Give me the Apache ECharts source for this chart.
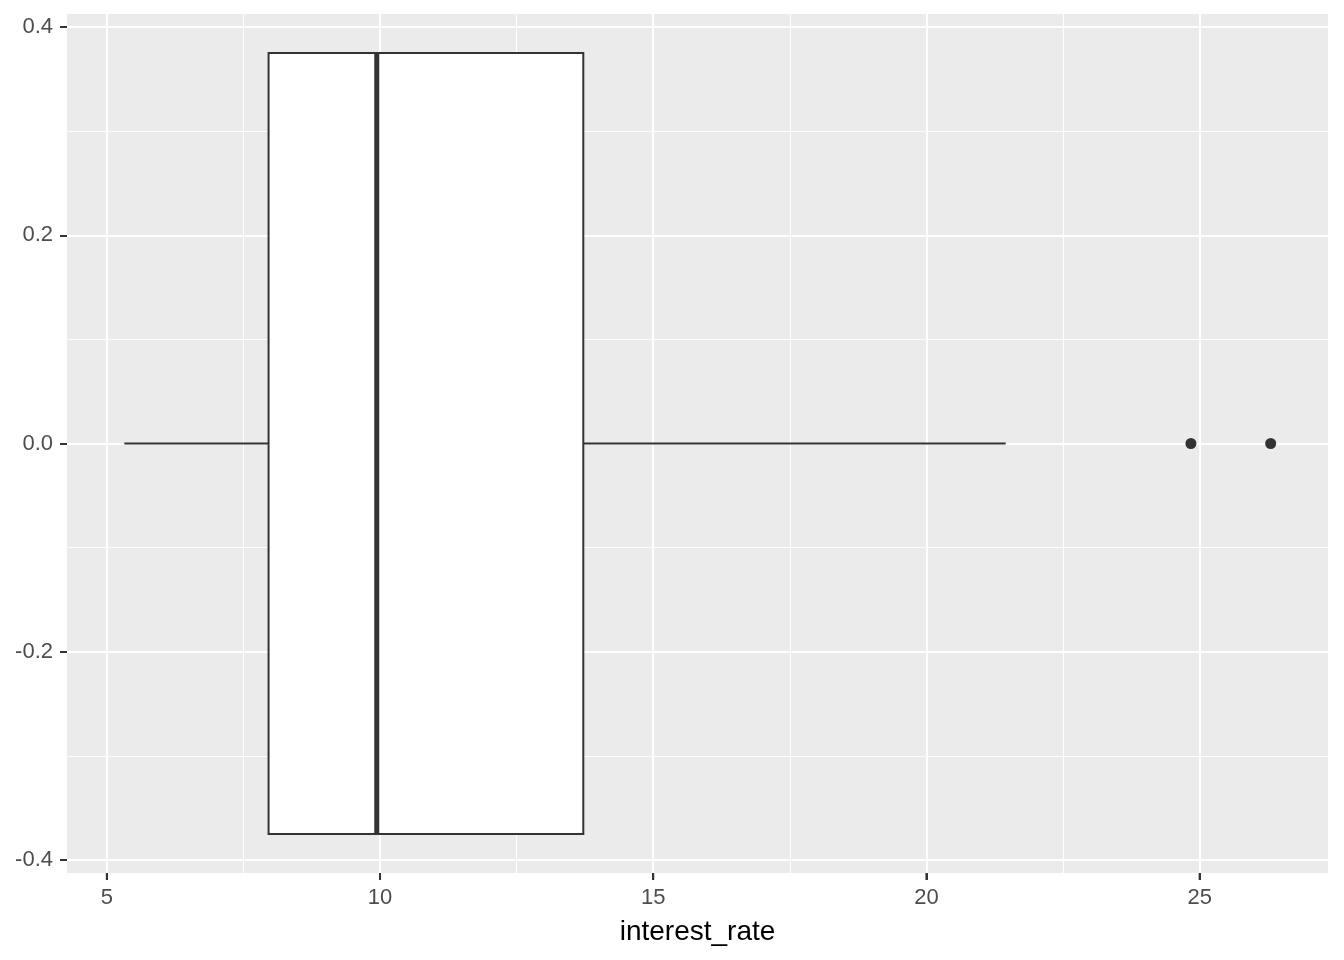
<!DOCTYPE html>
<html>
<head>
<meta charset="utf-8">
<script src="https://cdn.jsdelivr.net/npm/echarts@6/dist/echarts.min.js"></script>
<style>
html,body{margin:0;padding:0;background:#fff;}
#chart{width:1344px;height:960px;}
</style>
</head>
<body>
<div id="chart"></div>
<script>
// ---- data ----
const xTicks = [5, 10, 15, 20, 25];
const xMinorTicks = [7.5, 12.5, 17.5, 22.5];
const yTicks = [-0.4, -0.2, 0, 0.2, 0.4];
const yMinorTicks = [-0.3, -0.1, 0.1, 0.3];
// lower whisker, Q1, median, Q3, upper whisker
const boxStats = [5.32, 7.96, 9.94, 13.72, 21.45];
const outliers = [24.84, 26.30];
const boxHalfWidth = 0.375;
const xRange = [4.271, 27.349];
const yRange = [-0.4125, 0.4125];
const xTitle = 'interest_rate';

const FONT = 'Liberation Sans, Arial, sans-serif';
const chart = echarts.init(document.getElementById('chart'));

const option = {
  animation: false,
  backgroundColor: '#ffffff',
  grid: {
    left: 67, right: 16, top: 14, bottom: 87,
    show: true, backgroundColor: '#EBEBEB', borderWidth: 0
  },
  xAxis: [
    {
      type: 'value', min: xRange[0], max: xRange[1], position: 'bottom',
      axisLine: {show: false, onZero: false},
      axisTick: {show: true, customValues: xTicks, length: 7, lineStyle: {color: '#333333', width: 2}},
      axisLabel: {customValues: xTicks, color: '#4D4D4D', fontSize: 22, fontFamily: FONT, margin: 14},
      splitLine: {show: true, lineStyle: {color: '#ffffff', width: 2}},
      name: xTitle, nameLocation: 'middle', nameGap: 45,
      nameTextStyle: {color: '#000000', fontSize: 28, fontFamily: FONT}
    },
    {
      type: 'value', min: xRange[0], max: xRange[1], position: 'top',
      axisLine: {show: false, onZero: false},
      axisTick: {show: true, customValues: xMinorTicks, length: 1, lineStyle: {color: 'rgba(0,0,0,0)', width: 0}},
      axisLabel: {show: false},
      splitLine: {show: true, lineStyle: {color: '#ffffff', width: 1.1}}
    }
  ],
  yAxis: [
    {
      type: 'value', min: yRange[0], max: yRange[1], position: 'left',
      axisLine: {show: false, onZero: false},
      axisTick: {show: true, customValues: yTicks, length: 7, lineStyle: {color: '#333333', width: 2}},
      axisLabel: {customValues: yTicks, color: '#4D4D4D', fontSize: 22, fontFamily: FONT, margin: 14,
        formatter: v => Number(v).toFixed(1)},
      splitLine: {show: true, lineStyle: {color: '#ffffff', width: 2}}
    },
    {
      type: 'value', min: yRange[0], max: yRange[1], position: 'right',
      axisLine: {show: false, onZero: false},
      axisTick: {show: true, customValues: yMinorTicks, length: 1, lineStyle: {color: 'rgba(0,0,0,0)', width: 0}},
      axisLabel: {show: false},
      splitLine: {show: true, lineStyle: {color: '#ffffff', width: 1.1}}
    }
  ],
  series: [
    {
      type: 'custom',
      xAxisIndex: 0, yAxisIndex: 0,
      z: 5,
      data: [[boxStats[0], boxStats[1], boxStats[2], boxStats[3], boxStats[4], 0]],
      renderItem: function (params, api) {
        const lo = api.value(0), q1 = api.value(1), med = api.value(2), q3 = api.value(3), hi = api.value(4), yc = api.value(5);
        const pLo = api.coord([lo, yc]);
        const pQ1 = api.coord([q1, yc]);
        const pQ3 = api.coord([q3, yc]);
        const pHi = api.coord([hi, yc]);
        const top = api.coord([q1, yc + boxHalfWidth])[1];
        const bot = api.coord([q1, yc - boxHalfWidth])[1];
        const pMed = api.coord([med, yc]);
        return {
          type: 'group',
          children: [
            {type: 'line', shape: {x1: pLo[0], y1: pLo[1], x2: pQ1[0], y2: pQ1[1]}, style: {stroke: '#333333', lineWidth: 2}},
            {type: 'line', shape: {x1: pQ3[0], y1: pQ3[1], x2: pHi[0], y2: pHi[1]}, style: {stroke: '#333333', lineWidth: 2}},
            {type: 'rect', shape: {x: pQ1[0], y: top, width: pQ3[0] - pQ1[0], height: bot - top},
              style: {fill: '#ffffff', stroke: '#333333', lineWidth: 2}},
            {type: 'line', shape: {x1: pMed[0], y1: top, x2: pMed[0], y2: bot},
              style: {stroke: '#333333', lineWidth: 5}}
          ]
        };
      }
    },
    {
      // x-axis tick marks below the panel, positioned through the x scale
      type: 'custom',
      xAxisIndex: 0, yAxisIndex: 0,
      zlevel: 1,
      z: 10,
      clip: false,
      silent: true,
      data: xTicks.map(v => [v, yRange[0]]),
      renderItem: function (params, api) {
        const p = api.coord([api.value(0), api.value(1)]);
        return {type: 'rect', shape: {x: p[0] - 1, y: p[1], width: 2, height: 7},
          style: {fill: '#333333'}};
      }
    },
    {
      type: 'scatter',
      xAxisIndex: 0, yAxisIndex: 0,
      z: 6,
      symbol: 'circle',
      symbolSize: 11,
      itemStyle: {color: '#333333', opacity: 1},
      data: outliers.map(v => [v, 0])
    }
  ]
};
chart.setOption(option);
</script>
</body>
</html>
